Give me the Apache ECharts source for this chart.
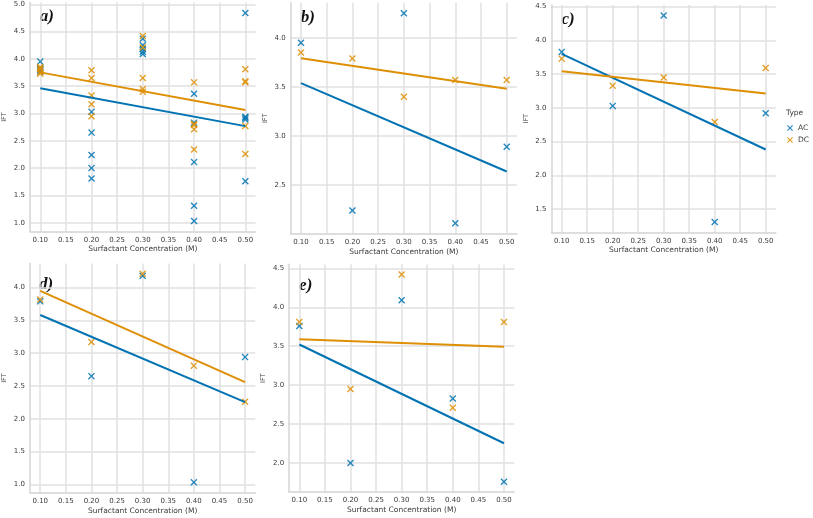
<!DOCTYPE html>
<html><head><meta charset="utf-8">
<script src="https://cdn.jsdelivr.net/npm/echarts@6/dist/echarts.min.js"></script>
<style>html,body{margin:0;padding:0;background:#fff}#c{width:813px;height:518px}</style>
</head><body><div id="c"></div>
<script>
// ---- data ----
const concentrations = [0.10, 0.20, 0.30, 0.40, 0.50];
const xTickValues = [0.10, 0.15, 0.20, 0.25, 0.30, 0.35, 0.40, 0.45, 0.50];
const panelLabels = ['a)', 'b)', 'c)', 'd)', 'e)'];
const seriesNames = ['AC', 'DC'];

// panel a: all runs, grouped by concentration
const aAC = [[3.95, 3.83, 3.79, 3.76, 3.80], [2.24, 3.03, 2.65, 2.00, 1.81], [4.25, 4.37, 4.18, 4.09, 4.13], [2.11, 1.31, 1.03, 2.83, 3.36], [2.89, 2.92, 2.94, 1.76, 4.84]];
const aDC = [[3.85, 3.73, 3.82, 3.81, 3.76], [3.79, 3.33, 3.17, 2.95, 3.65], [3.40, 3.45, 4.21, 4.42, 3.65], [3.57, 2.79, 2.81, 2.71, 2.34], [3.57, 3.59, 2.26, 3.81, 2.77]];
// panels b-e
const bAC = [3.95, 2.24, 4.25, 2.11, 2.89];
const bDC = [3.85, 3.79, 3.40, 3.57, 3.57];
const cAC = [3.83, 3.03, 4.37, 1.31, 2.92];
const cDC = [3.73, 3.33, 3.45, 2.79, 3.59];
const dAC = [3.79, 2.65, 4.18, 1.03, 2.94];
const dDC = [3.82, 3.17, 4.21, 2.81, 2.26];
const eAC = [3.76, 2.00, 4.09, 2.83, 1.76];
const eDC = [3.81, 2.95, 4.42, 2.71, 3.81];

// ---- layout / style ----
const layout = [
  {left: 29.7, top: 2.6, width: 225.9, height: 228.9},
  {left: 290.7, top: 2.8, width: 226.3, height: 231},
  {left: 551.5, top: 5.1, width: 224.4, height: 227.2},
  {left: 29.0, top: 263.4, width: 226.3, height: 229.4},
  {left: 289.1, top: 264.2, width: 225.1, height: 227.9}
];
const BLUE = '#0173b2', ORANGE = '#de8f05';
const FONT = 'DejaVu Sans';
const TXT = '#3a3a3a';
const GRIDC = '#e0e0e0';
const xPath = 'path://M0,1.4L1.4,0L5,3.6L8.6,0L10,1.4L6.4,5L10,8.6L8.6,10L5,6.4L1.4,10L0,8.6L3.6,5Z';

const panelData = [[aAC, aDC], [bAC, bDC], [cAC, cDC], [dAC, dDC], [eAC, eDC]];

function toPoints(groups) {
  const pts = [];
  groups.forEach((g, i) => {
    (Array.isArray(g) ? g : [g]).forEach(v => pts.push([concentrations[i], v]));
  });
  return pts;
}
function fitLine(pts) {
  const n = pts.length;
  let mx = 0, my = 0;
  pts.forEach(p => { mx += p[0]; my += p[1]; });
  mx /= n; my /= n;
  let sxy = 0, sxx = 0;
  pts.forEach(p => { sxy += (p[0] - mx) * (p[1] - my); sxx += (p[0] - mx) * (p[0] - mx); });
  const b = sxy / sxx, a = my - b * mx;
  const x0 = Math.min(...pts.map(p => p[0])), x1 = Math.max(...pts.map(p => p[0]));
  return [[x0, a + b * x0], [x1, a + b * x1]];
}

const grids = [], xAxes = [], yAxes = [], series = [], graphics = [];
panelData.forEach((pd, k) => {
  const L = layout[k];
  grids.push({left: L.left, top: L.top, width: L.width, height: L.height, containLabel: false});
  const ptsAC = toPoints(pd[0]), ptsDC = toPoints(pd[1]);
  const lineAC = fitLine(ptsAC), lineDC = fitLine(ptsDC);
  const allY = ptsAC.concat(ptsDC).map(p => p[1]);
  const ymin = Math.min(...allY), ymax = Math.max(...allY), r = ymax - ymin;
  const lo = ymin - 0.05 * r, hi = ymax + 0.05 * r;
  const yTicks = [];
  for (let v = Math.ceil(lo / 0.5) * 0.5; v <= hi + 1e-9; v += 0.5) yTicks.push(+v.toFixed(2));
  xAxes.push({
    type: 'value', gridIndex: k, min: 0.08, max: 0.52,
    name: 'Surfactant Concentration (M)', nameLocation: 'middle', nameGap: 14,
    nameTextStyle: {fontFamily: FONT, fontSize: 7.5, color: TXT},
    axisLine: {show: true, lineStyle: {color: '#d4d4d4', width: 1.5}},
    axisTick: {show: false, customValues: xTickValues},
    axisLabel: {customValues: xTickValues, formatter: v => v.toFixed(2), fontFamily: FONT, fontSize: 7, color: TXT, margin: 5},
    splitLine: {show: true, lineStyle: {color: GRIDC, width: 1.5}}
  });
  yAxes.push({
    type: 'value', gridIndex: k, min: lo, max: hi,
    name: 'IFT', nameLocation: 'middle', nameGap: 22, nameRotate: 90,
    nameTextStyle: {fontFamily: FONT, fontSize: 6.5, color: TXT},
    axisLine: {show: true, lineStyle: {color: '#d4d4d4', width: 1.5}},
    axisTick: {show: false, customValues: yTicks},
    axisLabel: {customValues: yTicks, formatter: v => v.toFixed(1), fontFamily: FONT, fontSize: 7, color: TXT, margin: 5},
    splitLine: {show: true, lineStyle: {color: GRIDC, width: 1.5}}
  });
  [[ptsAC, lineAC, BLUE, 'AC'], [ptsDC, lineDC, ORANGE, 'DC']].forEach(s => {
    series.push({
      type: 'scatter', name: s[3], xAxisIndex: k, yAxisIndex: k, data: s[0],
      symbol: xPath, symbolSize: 7, itemStyle: {color: s[2], opacity: 0.85}, z: 3
    });
    series.push({
      type: 'line', name: s[3], xAxisIndex: k, yAxisIndex: k, data: s[1],
      symbol: 'none', lineStyle: {color: s[2], width: 2}, z: 4, silent: true
    });
  });
  graphics.push({
    type: 'text', left: L.left + 10, top: L.top + (k < 3 ? 6 : 13),
    style: {text: panelLabels[k], font: 'italic bold 17px "Liberation Serif"', fill: '#111'}
  });
});
graphics.push({type: 'text', left: 786, top: 109, style: {text: 'Type', font: '7.5px "DejaVu Sans"', fill: TXT}});

const option = {
  animation: false,
  backgroundColor: '#fff',
  grid: grids, xAxis: xAxes, yAxis: yAxes, series: series, graphic: graphics,
  legend: {
    data: seriesNames.map((n, i) => ({name: n, icon: xPath, itemStyle: {color: i ? ORANGE : BLUE}})),
    orient: 'vertical', left: 782, top: 119, itemWidth: 6, itemHeight: 6, itemGap: 4,
    textStyle: {fontFamily: FONT, fontSize: 7.5, color: TXT}, selectedMode: false
  }
};
echarts.init(document.getElementById('c')).setOption(option);
</script></body></html>
